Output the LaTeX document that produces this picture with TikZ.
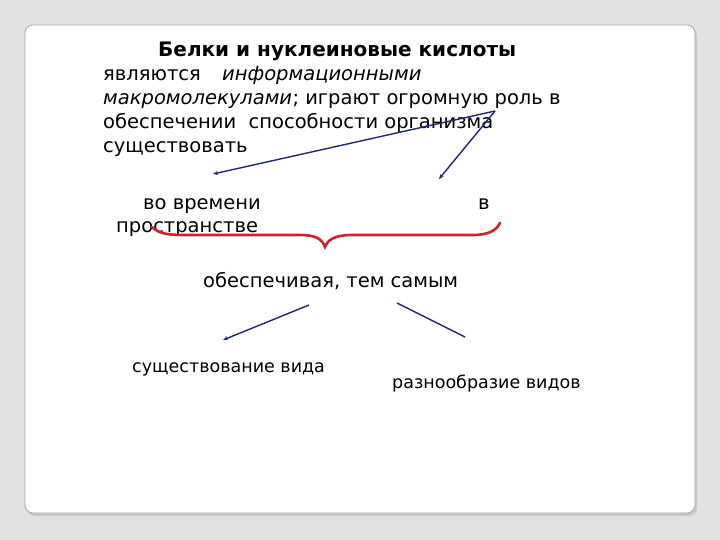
\documentclass[tikz,border=0pt]{standalone}
\usepackage{fontspec}
\setmainfont{DejaVu Sans}
\usetikzlibrary{arrows.meta}
\definecolor{bggray}{HTML}{E2E2E2}
\definecolor{framegray}{HTML}{A8A8A8}
\definecolor{shadowgray}{HTML}{C8C8C8}
\definecolor{arrowblue}{HTML}{1F2A6A}
\definecolor{bracered}{HTML}{D0202E}
\begin{document}
\begin{tikzpicture}[x=1pt,y=-1pt,
  txt/.style={anchor=base west,inner sep=0pt,font=\fontsize{19.5}{23}\selectfont},
  txtsmall/.style={anchor=base west,inner sep=0pt,font=\fontsize{17.5}{21}\selectfont},
  arr/.style={draw=arrowblue,line width=1.4pt,-{Stealth[length=5pt,width=4pt]}},
  ln/.style={draw=arrowblue,line width=1.4pt},
  bracestyle/.style={draw=bracered,line width=2.6pt,line cap=round}]
\useasboundingbox (0,0) rectangle (720,540);
\fill[bggray] (0,0) rectangle (720,540);
\fill[shadowgray,rounded corners=8pt] (27,28) rectangle (697,516);
\draw[framegray,fill=white,rounded corners=8pt,line width=0.8pt] (25,25) rectangle (695,513);
% text
\node[txt,font=\fontsize{20}{24}\selectfont\bfseries] (title) at (158,57) {Белки и нуклеиновые кислоты};
\node[txt] (l2a) at (103,81) {являются};
\node[txt] (l2b) at (222,81) {\itshape информационными};
\node[txt] (l3a) at (103,105) {\itshape макромолекулами};
\node[txt] (l3b) at (l3a.base east) {; играют огромную роль в};
\node[txt] (l4) at (103,129) {обеспечении\ \ способности организма};
\node[txt] (l5) at (103,153) {существовать};
\node[txt] (vt) at (143,210) {во времени};
\node[txt] (vp) at (116,233) {пространстве};
\node[txt] (vv) at (478,210) {в};
\node[txt] (ob) at (203,287) {обеспечивая, тем самым};
\node[txtsmall] (sv) at (132,372) {существование вида};
\node[txtsmall] (rv) at (392,388) {разнообразие видов};
% arrows
\coordinate (s1) at (495,111);
\coordinate (e1) at (213,174);
\coordinate (e2) at (439,179);
\draw[arr] (s1) -- (e1);
\draw[arr] (s1) -- (e2);
\coordinate (s3) at (309,305);
\coordinate (e3) at (223,340);
\coordinate (s4) at (397,303);
\coordinate (e4) at (465,337);
\draw[arr] (s3) -- (e3);
\draw[ln] (s4) -- (e4);
% brace
\draw[bracestyle] (152,227) .. controls (160,235) and (172,235) .. (188,235) -- (300,235) .. controls (316,235) and (322,239) .. (325,247) .. controls (328,239) and (336,235) .. (352,235) -- (472,235) .. controls (488,235) and (496,231) .. (500,223);
\end{tikzpicture}
\end{document}
